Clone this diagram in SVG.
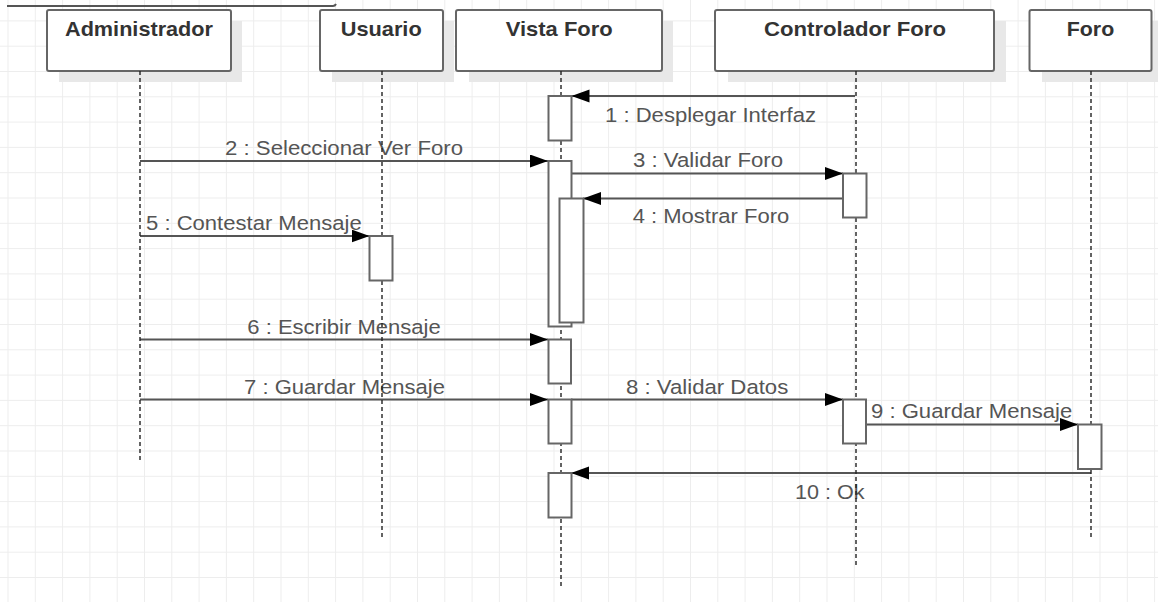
<svg xmlns="http://www.w3.org/2000/svg" width="1158" height="602" viewBox="0 0 1158 602">
<style>
.ttl{font-family:"Liberation Sans",Arial,sans-serif;font-size:20.5px;font-weight:bold;fill:#333}
.lbl{font-family:"Liberation Sans",Arial,sans-serif;font-size:20.5px;fill:#555}
.box{fill:#fff;stroke:#666;stroke-width:2}
.shd{fill:#e8e8e8}
.life{stroke:#222;stroke-width:1.4;stroke-dasharray:4 3;fill:none}
.act{fill:#fff;stroke:#666;stroke-width:2}
.msg{stroke:#555;stroke-width:2;fill:none;marker-end:url(#arr)}
</style>
<defs>
<pattern id="grid" width="27.3" height="25.3" patternUnits="userSpaceOnUse" x="7.5" y="20.4">
<path d="M0.5,0 V25.3 M0,0.5 H27.3" stroke="#ededed" stroke-width="1" fill="none"/>
</pattern>
<marker id="arr" markerUnits="userSpaceOnUse" markerWidth="19" markerHeight="14" refX="18" refY="6.5" orient="auto">
<path d="M0,0 L18,6.5 L0,13 z" fill="#000"/>
</marker>
</defs>
<rect width="1158" height="602" fill="#fff"/>
<rect width="1158" height="602" fill="url(#grid)"/>
<path d="M7,6 H333 q2,0 3,-2" stroke="#555" stroke-width="2" fill="none"/>

<g id="connectors">
<line class="msg" x1="855" y1="96" x2="571.5" y2="96"/>
<text class="lbl" x="605" y="122" textLength="211" lengthAdjust="spacingAndGlyphs">1 : Desplegar Interfaz</text>
<line class="msg" x1="140" y1="161" x2="548" y2="161"/>
<text class="lbl" x="225" y="154.5" textLength="238" lengthAdjust="spacingAndGlyphs">2 : Seleccionar Ver Foro</text>
<line class="msg" x1="571" y1="173.5" x2="843" y2="173.5"/>
<text class="lbl" x="633" y="167" textLength="150" lengthAdjust="spacingAndGlyphs">3 : Validar Foro</text>
<line class="msg" x1="843" y1="198.5" x2="583" y2="198.5"/>
<text class="lbl" x="632.7" y="223" textLength="156.6" lengthAdjust="spacingAndGlyphs">4 : Mostrar Foro</text>
<line class="msg" x1="140" y1="236" x2="369.5" y2="236"/>
<text class="lbl" x="146" y="230" textLength="215.7" lengthAdjust="spacingAndGlyphs">5 : Contestar Mensaje</text>
<line class="msg" x1="140" y1="339.5" x2="548" y2="339.5"/>
<text class="lbl" x="247.3" y="333.5" textLength="193.4" lengthAdjust="spacingAndGlyphs">6 : Escribir Mensaje</text>
<line class="msg" x1="140" y1="399.5" x2="548" y2="399.5"/>
<text class="lbl" x="244" y="393.5" textLength="201" lengthAdjust="spacingAndGlyphs">7 : Guardar Mensaje</text>
<line class="msg" x1="571" y1="399.5" x2="843" y2="399.5"/>
<text class="lbl" x="626" y="393.5" textLength="162.3" lengthAdjust="spacingAndGlyphs">8 : Validar Datos</text>
<line class="msg" x1="866" y1="424.5" x2="1078" y2="424.5"/>
<text class="lbl" x="871" y="418" textLength="201.3" lengthAdjust="spacingAndGlyphs">9 : Guardar Mensaje</text>
<line class="msg" x1="1091" y1="473" x2="571" y2="473"/>
<text class="lbl" x="795" y="498.5" textLength="69.6" lengthAdjust="spacingAndGlyphs">10 : Ok</text>
</g>

<g id="administrador">
<rect class="shd" x="59" y="21" width="183" height="61"/>
<rect class="box" x="47" y="10" width="184" height="61" rx="2"/>
<text class="ttl" x="65" y="36" textLength="148" lengthAdjust="spacingAndGlyphs">Administrador</text>
<line class="life" x1="140" y1="71" x2="140" y2="463"/>
</g>

<g id="usuario">
<rect class="shd" x="332" y="21" width="122" height="61"/>
<rect class="box" x="320" y="10" width="123" height="61" rx="2"/>
<text class="ttl" x="340.7" y="36" textLength="81" lengthAdjust="spacingAndGlyphs">Usuario</text>
<line class="life" x1="382" y1="71" x2="382" y2="539"/>
<rect class="act" x="369.5" y="236" width="23" height="44.5"/>
</g>

<g id="vista-foro">
<rect class="shd" x="469" y="21" width="204" height="61"/>
<rect class="box" x="456" y="10" width="206" height="61" rx="2"/>
<text class="ttl" x="505.7" y="36" textLength="107" lengthAdjust="spacingAndGlyphs">Vista Foro</text>
<line class="life" x1="561" y1="71" x2="561" y2="587"/>
<rect class="act" x="548.5" y="96" width="23" height="44.5"/>
<rect class="act" x="548.5" y="161" width="23" height="165.5"/>
<rect class="act" x="559.5" y="198.5" width="24" height="124"/>
<rect class="act" x="548.5" y="339.5" width="22.5" height="44"/>
<rect class="act" x="548.5" y="399.5" width="23" height="44"/>
<rect class="act" x="548.5" y="473" width="23" height="44.5"/>
</g>

<g id="controlador-foro">
<rect class="shd" x="728" y="21" width="278" height="61"/>
<rect class="box" x="715" y="10" width="279" height="61" rx="2"/>
<text class="ttl" x="764" y="36" textLength="182" lengthAdjust="spacingAndGlyphs">Controlador Foro</text>
<line class="life" x1="856" y1="71" x2="856" y2="566"/>
<rect class="act" x="843" y="173.5" width="23.5" height="44"/>
<rect class="act" x="843" y="399.5" width="23" height="44"/>
</g>

<g id="foro">
<rect class="shd" x="1042" y="21" width="116" height="61"/>
<rect class="box" x="1029.5" y="10" width="122" height="61" rx="2"/>
<text class="ttl" x="1066.7" y="36" textLength="47.5" lengthAdjust="spacingAndGlyphs">Foro</text>
<line class="life" x1="1091" y1="71" x2="1091" y2="539"/>
<rect class="act" x="1078" y="424.5" width="23.5" height="44.5"/>
</g>
</svg>
